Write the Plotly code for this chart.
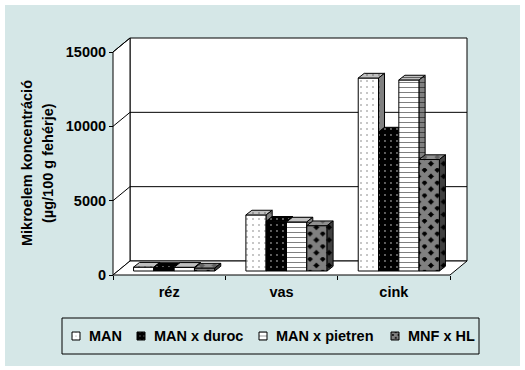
import plotly.graph_objects as go

# ---------------- data ----------------
categories = ["réz", "vas", "cink"]
series_names = ["MAN", "MAN x duroc", "MAN x pietren", "MNF x HL"]
man = [260, 3770, 12980]
man_duroc = [240, 3350, 9350]
man_pietren = [250, 3300, 12850]
mnf_hl = [200, 3050, 7500]
y_tickvals = [0, 5000, 10000, 15000]
y_ticktext = ["0", "5000", "10000", "15000"]
y_title_lines = ["Mikroelem koncentráció", "(µg/100 g fehérje)"]

series_values = [man, man_duroc, man_pietren, mnf_hl]

# ---------------- styles ----------------
BG = "#D5E7E7"
FONT = "Arial, Liberation Sans, sans-serif"
FS = 14.5
# each face: (background, foreground) of the fill pattern
styles = [
    dict(shape=".", size=6, solidity=0.06,
         front=("white", "black"), top=("#C0C0C0", "black"), side=("#808080", "black")),
    dict(shape=".", size=6, solidity=0.08,
         front=("black", "white"), top=("black", "white"), side=("black", "white")),
    dict(shape="-", size=5, solidity=0.2,
         front=("white", "black"), top=("#C0C0C0", "black"), side=("#808080", "black")),
    dict(shape="x", size=9, solidity=0.8,
         front=("black", "white"), top=("#606060", "#C0C0C0"), side=("black", "#808080")),
]

# ---------------- geometry (pixels) ----------------
W, H = 525, 370
PLOT_X0, PLOT_X1, PLOT_Y0, PLOT_Y1 = 100, 480, 30, 290   # main plotting box (px, y down)
AX_X0, AX_X3 = 113, 450      # front axis: x=0 and x=3
AX_Y0, AX_YTOP = 275, 52     # front axis: y=0 and y=15000
Y_MAX = y_tickvals[-1]
n_cat = len(categories)
px_per_x = (AX_X3 - AX_X0) / n_cat
px_per_y = (AX_Y0 - AX_YTOP) / Y_MAX
x_range = [(PLOT_X0 - AX_X0) / px_per_x, (PLOT_X1 - AX_X0) / px_per_x]
y_range = [(AX_Y0 - PLOT_Y1) / px_per_y, (AX_Y0 - PLOT_Y0) / px_per_y]

# legend box (px)
LEG_X0, LEG_X1, LEG_Y0, LEG_Y1 = 62, 479, 318, 354
leg_swatch_left = [10, 75, 197, 329]   # relative to legend box
LEG_SW = 8
LEG_TEXT_GAP = 7


def px_x(px):
    return px / W


def px_y(py):
    return 1 - py / H


def dxu(px):
    return px / px_per_x


def dyu(px):
    return px / px_per_y


WALL_DX, WALL_DY = dxu(17), dyu(14)
BAR_OX, BAR_OY = dxu(5), dyu(4)
BAR_DX, BAR_DY = dxu(6), dyu(4.7)
BAR_W = dxu(20.3)

fig = go.Figure()


def poly(x, y, colors, st, xa="x", ya="y", psize=None):
    bgc, fgc = colors
    fig.add_trace(go.Scatter(
        x=x, y=y, mode="lines", fill="toself", xaxis=xa, yaxis=ya,
        fillcolor=bgc,
        fillpattern=dict(shape=st["shape"], bgcolor=bgc, fgcolor=fgc,
                         size=psize or st["size"], solidity=st["solidity"]),
        line=dict(color="black", width=1),
        hoverinfo="skip", showlegend=False,
    ))


# ---------------- 3D bars (painter's order) ----------------
n_ser = len(series_values)
for i in range(n_cat):
    for j, vals in enumerate(series_values):
        st = styles[j]
        v = vals[i]
        xl = i + 0.5 + BAR_OX + (j - n_ser / 2) * BAR_W
        xr = xl + BAR_W
        y0 = BAR_OY
        y1 = BAR_OY + v
        poly([xl, xr, xr, xl, xl], [y0, y0, y1, y1, y0], st["front"], st)
        poly([xl, xr, xr + BAR_DX, xl + BAR_DX, xl],
             [y1, y1, y1 + BAR_DY, y1 + BAR_DY, y1], st["top"], st)
        poly([xr, xr + BAR_DX, xr + BAR_DX, xr, xr],
             [y0, y0 + BAR_DY, y1 + BAR_DY, y1, y0], st["side"], st)

# ---------------- legend (own pixel axes) ----------------
leg_w, leg_h = LEG_X1 - LEG_X0, LEG_Y1 - LEG_Y0
annotations = []
for j, name in enumerate(series_names):
    st = styles[j]
    sx0 = leg_swatch_left[j]
    sy0 = leg_h / 2 - LEG_SW / 2
    poly([sx0, sx0 + LEG_SW, sx0 + LEG_SW, sx0, sx0],
         [sy0, sy0, sy0 + LEG_SW, sy0 + LEG_SW, sy0],
         st["front"], st, xa="x2", ya="y2", psize=4)
    annotations.append(dict(
        text=f"<b>{name}</b>", xref="x2", yref="y2",
        x=sx0 + LEG_SW + LEG_TEXT_GAP, y=leg_h / 2, xanchor="left", yanchor="middle",
        showarrow=False, font=dict(family=FONT, size=FS, color="black"),
    ))

# ---------------- walls / floor / gridlines ----------------
shapes = []
shapes.append(dict(type="rect", xref="paper", yref="paper", layer="below",
                   x0=px_x(5), x1=px_x(520), y0=px_y(366), y1=px_y(5),
                   fillcolor=BG, line=dict(width=0)))
shapes.append(dict(type="rect", xref="paper", yref="paper", layer="below",
                   x0=px_x(LEG_X0), x1=px_x(LEG_X1), y0=px_y(LEG_Y1), y1=px_y(LEG_Y0),
                   fillcolor=BG, line=dict(color="black", width=1)))
shapes.append(dict(type="rect", xref="x", yref="y", layer="below",
                   x0=WALL_DX, x1=n_cat + WALL_DX, y0=WALL_DY, y1=Y_MAX + WALL_DY,
                   fillcolor="white", line=dict(color="black", width=1)))
shapes.append(dict(type="path", xref="x", yref="y", layer="below",
                   path=f"M0,0 L0,{Y_MAX} L{WALL_DX},{Y_MAX + WALL_DY} L{WALL_DX},{WALL_DY} Z",
                   fillcolor="white", line=dict(color="black", width=1)))
shapes.append(dict(type="path", xref="x", yref="y", layer="below",
                   path=f"M0,0 L{n_cat},0 L{n_cat + WALL_DX},{WALL_DY} L{WALL_DX},{WALL_DY} Z",
                   fillcolor="white", line=dict(color="black", width=1)))
for v in y_tickvals[1:-1]:
    shapes.append(dict(type="line", xref="x", yref="y", layer="below",
                       x0=WALL_DX, x1=n_cat + WALL_DX, y0=v + WALL_DY, y1=v + WALL_DY,
                       line=dict(color="black", width=1)))
for v in y_tickvals[1:]:
    shapes.append(dict(type="line", xref="x", yref="y", layer="below",
                       x0=0, x1=WALL_DX, y0=v, y1=v + WALL_DY,
                       line=dict(color="black", width=1)))

# ---------------- y axis title ----------------
for line, pxx in zip(y_title_lines, [27, 48]):
    annotations.append(dict(
        text=f"<b>{line}</b>", xref="paper", yref="paper",
        x=px_x(pxx), y=px_y(163),
        xanchor="center", yanchor="middle", textangle=-90, showarrow=False,
        font=dict(family=FONT, size=FS, color="black"),
    ))

tickfont = dict(family=FONT, size=FS, color="black", weight="bold")
fig.update_layout(
    width=W, height=H,
    margin=dict(l=0, r=0, t=0, b=0, pad=0),
    paper_bgcolor="white",
    plot_bgcolor="rgba(0,0,0,0)",
    font=dict(family=FONT, size=FS, color="black"),
    shapes=shapes,
    annotations=annotations,
    showlegend=False,
    xaxis=dict(
        domain=[px_x(PLOT_X0), px_x(PLOT_X1)],
        range=x_range, anchor="free", position=px_y(AX_Y0),
        showgrid=False, zeroline=False, showline=False,
        tickmode="array", tickvals=[i + 0.5 for i in range(n_cat)], ticktext=categories,
        ticks="", ticklabelstandoff=6, tickfont=tickfont,
        minor=dict(ticks="outside", ticklen=4, tickcolor="black", tickwidth=1,
                   tickmode="array", tickvals=list(range(n_cat + 1)), showgrid=False),
        fixedrange=True,
    ),
    yaxis=dict(
        domain=[px_y(PLOT_Y1), px_y(PLOT_Y0)],
        range=y_range, anchor="free", position=px_x(AX_X0), side="left",
        showgrid=False, zeroline=False, showline=False,
        tickmode="array", tickvals=y_tickvals, ticktext=y_ticktext,
        ticks="outside", ticklen=4, tickcolor="black", tickfont=tickfont,
        fixedrange=True,
    ),
    xaxis2=dict(
        domain=[px_x(LEG_X0), px_x(LEG_X1)], range=[0, leg_w], anchor="y2",
        visible=False, fixedrange=True,
    ),
    yaxis2=dict(
        domain=[px_y(LEG_Y1), px_y(LEG_Y0)], range=[0, leg_h], anchor="x2",
        visible=False, fixedrange=True,
    ),
)

fig.write_html("out.html", config={"displayModeBar": False},
               post_script="document.body.style.margin='0';")
